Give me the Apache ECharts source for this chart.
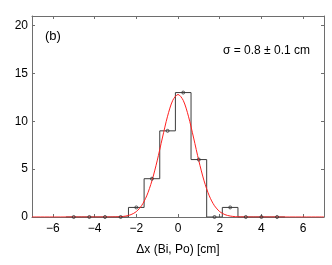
<!DOCTYPE html>
<html>
<head>
<meta charset="utf-8">
<script src="https://cdn.jsdelivr.net/npm/echarts@6/dist/echarts.min.js"></script>
<style>html,body{margin:0;padding:0;background:#fff}#c{width:332px;height:265px}</style>
</head>
<body>
<div id="c"></div>
<script>
// Histogram bin centres (cm) and counts
var binCenters = [-5, -4.25, -3.5, -2.75, -2, -1.25, -0.5, 0.25, 1, 1.75, 2.5, 3.25, 4, 4.75];
var binCounts  = [0, 0, 0, 0, 1, 4, 9, 13, 6, 0, 1, 0, 0, 0];
var binWidth = 0.75;
// Gaussian fit curve
var fitX = [-7, -3.5, -3, -2.75, -2.5, -2.25, -2, -1.75, -1.5, -1.25, -1, -0.75, -0.5, -0.25, 0, 0.25, 0.5, 0.75, 1, 1.25, 1.5, 1.75, 2, 2.25, 2.5, 2.75, 3, 3.5, 7];
var fitY = [0, 0.001, 0.011, 0.035, 0.10, 0.25, 0.56, 1.17, 2.21, 3.78, 5.86, 8.25, 10.53, 12.19, 12.8, 12.19, 10.53, 8.25, 5.86, 3.78, 2.21, 1.17, 0.56, 0.25, 0.10, 0.035, 0.011, 0.001, 0];
var xTicks = [-6, -4, -2, 0, 2, 4, 6];
var yTicks = [0, 5, 10, 15, 20];
var xTitle = 'Δx (Bi, Po) [cm]';
var panelLabel = '(b)';
var sigmaLabel = 'σ = 0.8 ± 0.1 cm';

var stairs = [];
for (var i = 0; i < binCenters.length; i++) {
  stairs.push([binCenters[i] - binWidth / 2, binCounts[i]]);
  stairs.push([binCenters[i] + binWidth / 2, binCounts[i]]);
}
var points = binCenters.map(function (c, i) { return [c, binCounts[i]]; });
var fit = fitX.map(function (x, i) { return [x, fitY[i]]; });

var FONT = 'Liberation Sans';
var axisCol = '#6e6e6e';
function minus(v) { return String(v).replace('-', '\u2212'); }

var chart = echarts.init(document.getElementById('c'), null, {renderer: 'canvas'});
chart.setOption({
  animation: false,
  backgroundColor: '#fff',
  grid: {left: 32, top: 16, right: 8, bottom: 48},
  xAxis: [{
    type: 'value', min: -7, max: 7, position: 'bottom',
    splitLine: {show: false},
    axisLine: {show: true, onZero: false, lineStyle: {color: axisCol, width: 1}},
    axisTick: {show: true, inside: true, length: 3, customValues: xTicks, lineStyle: {color: axisCol}},
    axisLabel: {show: true, customValues: xTicks, formatter: minus, color: '#000', fontFamily: FONT, fontSize: 12, margin: 6},
    name: xTitle, nameLocation: 'middle', nameGap: 27,
    nameTextStyle: {color: '#000', fontFamily: FONT, fontSize: 12}
  }, {
    type: 'value', min: -7, max: 7, position: 'top',
    splitLine: {show: false},
    axisLine: {show: true, onZero: false, lineStyle: {color: axisCol, width: 1}},
    axisTick: {show: true, inside: true, length: 3, customValues: xTicks, lineStyle: {color: axisCol}},
    axisLabel: {show: false}
  }],
  yAxis: [{
    type: 'value', min: 0, max: 21, position: 'left',
    splitLine: {show: false},
    axisLine: {show: true, onZero: false, lineStyle: {color: axisCol, width: 1}},
    axisTick: {show: true, inside: true, length: 3, customValues: yTicks, lineStyle: {color: axisCol}},
    axisLabel: {show: true, customValues: yTicks, color: '#000', fontFamily: FONT, fontSize: 12, margin: 4}
  }, {
    type: 'value', min: 0, max: 21, position: 'right',
    splitLine: {show: false},
    axisLine: {show: true, onZero: false, lineStyle: {color: axisCol, width: 1}},
    axisTick: {show: true, inside: true, length: 3, customValues: yTicks, lineStyle: {color: axisCol}},
    axisLabel: {show: false}
  }],
  series: [{
    type: 'line', data: stairs, xAxisIndex: 0, yAxisIndex: 0,
    symbol: 'none', lineStyle: {color: '#3c3c3c', width: 1}, z: 2
  }, {
    type: 'scatter', data: points, xAxisIndex: 0, yAxisIndex: 0,
    symbol: 'circle', symbolSize: 3,
    itemStyle: {color: 'rgba(255,255,255,0)', borderColor: '#333', borderWidth: 1}, z: 5
  }, {
    type: 'line', data: fit, xAxisIndex: 0, yAxisIndex: 0, smooth: 0.3,
    symbol: 'none', lineStyle: {color: '#ff2020', width: 1}, z: 4
  }],
  graphic: [{
    type: 'text', left: 45, top: 30,
    style: {text: panelLabel, fill: '#000', font: '13px "Liberation Sans"'}
  }, {
    type: 'text', left: 223, top: 45,
    style: {text: sigmaLabel, fill: '#000', font: '12px "Liberation Sans"'}
  }]
});
</script>
</body>
</html>
